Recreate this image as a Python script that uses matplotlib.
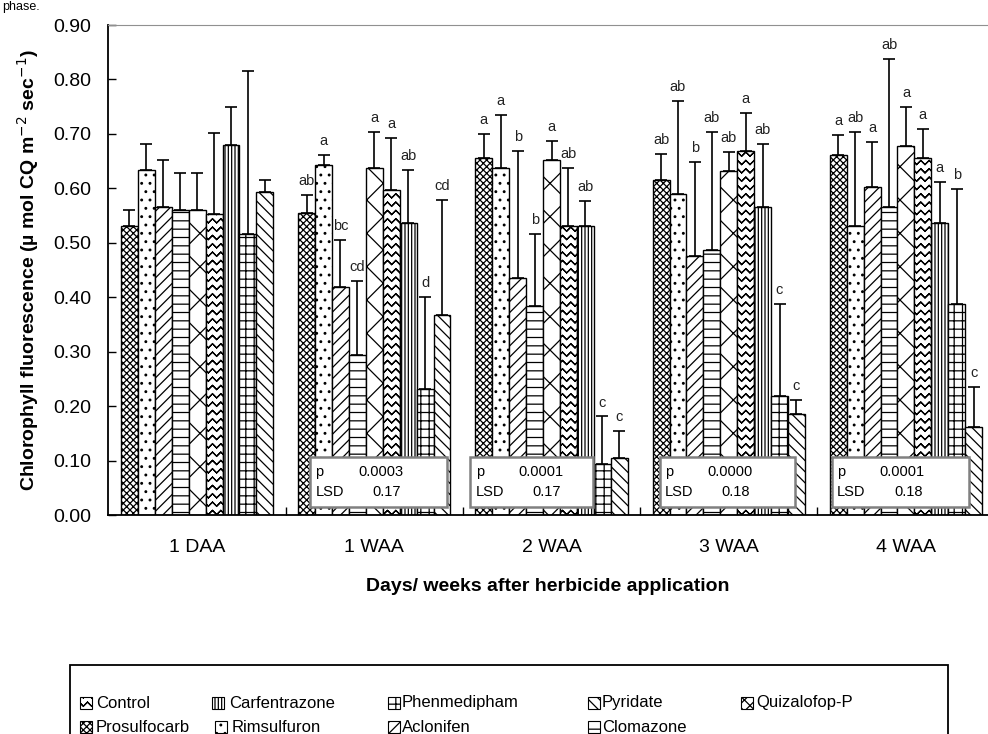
import numpy as np
import matplotlib
matplotlib.use("Agg")
import matplotlib.pyplot as plt
import matplotlib.hatch as mhatch
from matplotlib.path import Path
from matplotlib.patches import Rectangle

plt.rcParams['font.family'] = ['Liberation Sans', 'DejaVu Sans']
plt.rcParams['hatch.linewidth'] = 0.9


# wavy fill for the Control bars (takes over the 'O' hatch letter)
# each zigzag goes out and back along itself so the hatch fill adds no area
class ZigZagHatch(mhatch.HatchPatternBase):
    def __init__(self, hatch, density):
        self.num_lines = int(hatch.count('O') * density)
        self.periods = 12
        self.n = 2 * self.periods + 1
        self.num_vertices = self.num_lines * (2 * self.n - 1)
        self.filled = False

    def set_vertices_and_codes(self, vertices, codes):
        n = self.n
        xs = np.linspace(0, 1, n)
        amp = 0.25 / max(self.num_lines, 1)
        signs = np.where(np.arange(n) % 2 == 0, -1.0, 1.0)
        m = 2 * n - 1
        for i in range(self.num_lines):
            y0 = (i + 0.5) / self.num_lines
            ys = y0 + amp * signs
            px = np.concatenate([xs, xs[-2::-1]])
            py = np.concatenate([ys, ys[-2::-1]])
            sl = slice(i * m, (i + 1) * m)
            vertices[sl, 0] = px
            vertices[sl, 1] = py
            codes[sl] = Path.LINETO
            codes[i * m] = Path.MOVETO


mhatch._hatch_types = [h for h in mhatch._hatch_types if h is not mhatch.LargeCircles] + [ZigZagHatch]

# ---- data ----
groups = ['1 DAA', '1 WAA', '2 WAA', '3 WAA', '4 WAA']
treatments = ['Prosulfocarb', 'Rimsulfuron', 'Aclonifen', 'Clomazone', 'Quizalofop-P',
              'Control', 'Carfentrazone', 'Phenmedipham', 'Pyridate']

prosulfocarb = [0.530, 0.554, 0.656, 0.615, 0.661]
rimsulfuron = [0.634, 0.642, 0.637, 0.589, 0.531]
aclonifen = [0.566, 0.418, 0.436, 0.476, 0.602]
clomazone = [0.561, 0.293, 0.383, 0.487, 0.565]
quizalofop = [0.561, 0.637, 0.652, 0.632, 0.677]
control = [0.553, 0.597, 0.531, 0.669, 0.656]
carfentrazone = [0.679, 0.537, 0.530, 0.566, 0.536]
phenmedipham = [0.517, 0.232, 0.094, 0.219, 0.388]
pyridate = [0.594, 0.367, 0.104, 0.185, 0.162]

prosulfocarb_err = [0.031, 0.034, 0.043, 0.048, 0.037]
rimsulfuron_err = [0.048, 0.019, 0.098, 0.171, 0.172]
aclonifen_err = [0.086, 0.087, 0.233, 0.172, 0.083]
clomazone_err = [0.067, 0.137, 0.133, 0.217, 0.272]
quizalofop_err = [0.067, 0.067, 0.035, 0.034, 0.072]
control_err = [0.148, 0.095, 0.106, 0.070, 0.053]
carfentrazone_err = [0.070, 0.097, 0.047, 0.116, 0.076]
phenmedipham_err = [0.299, 0.169, 0.087, 0.169, 0.211]
pyridate_err = [0.021, 0.212, 0.051, 0.026, 0.074]

prosulfocarb_lab = ['', 'ab', 'a', 'ab', 'a']
rimsulfuron_lab = ['', 'a', 'a', 'ab', 'ab']
aclonifen_lab = ['', 'bc', 'b', 'b', 'a']
clomazone_lab = ['', 'cd', 'b', 'ab', 'ab']
quizalofop_lab = ['', 'a', 'a', 'ab', 'a']
control_lab = ['', 'a', 'ab', 'a', 'a']
carfentrazone_lab = ['', 'ab', 'ab', 'ab', 'a']
phenmedipham_lab = ['', 'd', 'c', 'c', 'b']
pyridate_lab = ['', 'cd', 'c', 'c', 'c']

p_values = ['0.0003', '0.0001', '0.0000', '0.0001']
lsd_values = ['0.17', '0.17', '0.18', '0.18']

means = [prosulfocarb, rimsulfuron, aclonifen, clomazone, quizalofop,
         control, carfentrazone, phenmedipham, pyridate]
errs = [prosulfocarb_err, rimsulfuron_err, aclonifen_err, clomazone_err, quizalofop_err,
        control_err, carfentrazone_err, phenmedipham_err, pyridate_err]
letters = [prosulfocarb_lab, rimsulfuron_lab, aclonifen_lab, clomazone_lab, quizalofop_lab,
           control_lab, carfentrazone_lab, phenmedipham_lab, pyridate_lab]

hatches = {'Prosulfocarb': 'xxxxx', 'Rimsulfuron': '..', 'Aclonifen': '///',
           'Clomazone': '--', 'Quizalofop-P': 'x', 'Control': 'OO',
           'Carfentrazone': '|||||', 'Phenmedipham': '++', 'Pyridate': '\\\\\\'}
# legend swatches are tiny, so the sparse cross needs more lines there
icon_hatches = dict(hatches, **{'Quizalofop-P': 'xxx'})

# ---- figure ----
W, H = 988, 734
fig = plt.figure(figsize=(W / 100, H / 100), dpi=100)
ax = fig.add_axes([108 / W, 1 - 515 / H, 1 - 108 / W, 490 / H])

x = np.arange(len(groups))
bw = 0.0955
for j, name in enumerate(treatments):
    pos = x + (j - 4) * bw
    ax.bar(pos, means[j], bw, color='white', edgecolor='black', hatch=hatches[name],
           linewidth=1.0, zorder=2)
    ax.errorbar(pos, means[j], yerr=[np.zeros(len(groups)), errs[j]], fmt='none',
                ecolor='black', elinewidth=1.2, capsize=4, capthick=1.2, zorder=3)
    for i in range(len(groups)):
        if letters[j][i]:
            ax.annotate(letters[j][i], (pos[i], means[j][i] + errs[j][i]),
                        xytext=(0, 5), textcoords='offset points', ha='center',
                        va='bottom', fontsize=10.5, color='#222222')

# p / LSD boxes
box_spans = [(0.638, 1.412), (1.542, 2.232), (2.610, 3.373), (3.582, 4.356)]
for k, (x0, x1) in enumerate(box_spans):
    ax.add_patch(Rectangle((x0, 0.015), x1 - x0, 0.092, facecolor='white',
                           edgecolor='#808080', linewidth=1.8, zorder=5))
    ax.text(x0 + 0.03, 0.079, 'p', fontsize=10.5, va='center', zorder=6)
    ax.text(x0 + 0.03, 0.042, 'LSD', fontsize=10.5, va='center', zorder=6)
    ax.text(x0 + 0.27, 0.079, p_values[k], fontsize=10.5, va='center', zorder=6)
    ax.text(x0 + 0.35, 0.042, lsd_values[k], fontsize=10.5, va='center', zorder=6)

ax.set_ylim(0, 0.9)
ax.set_xlim(-0.503, 4.463)
ax.set_yticks(np.arange(0, 0.91, 0.1))
ax.set_yticklabels([f'{v:.2f}' for v in np.arange(0, 0.91, 0.1)])
ax.set_xticks(x)
ax.set_xticklabels(groups)
ax.set_xticks(x[:-1] + 0.5, minor=True)
ax.tick_params(axis='y', direction='in', length=6, width=1, labelsize=14, pad=12)
ax.tick_params(axis='x', which='major', length=0, labelsize=14, pad=17)
ax.tick_params(axis='x', which='minor', direction='in', length=6, width=1)
ax.spines['right'].set_visible(False)
ax.spines['top'].set_color('#909090')
ax.spines['left'].set_linewidth(1.3)
ax.spines['bottom'].set_linewidth(1.3)

ax.set_xlabel('Days/ weeks after herbicide application', fontsize=14,
              fontweight='bold', labelpad=16)
ax.set_ylabel('Chlorophyll fluorescence (\u00b5 mol CQ m$^{-2}$ sec$^{-1}$)',
              fontsize=14, fontweight='bold', labelpad=9)

# caption remnant at the very top
fig.text(2 / W, 1 - 1 / H, 'phase.', fontsize=9, va='top', ha='left')

# ---- legend (drawn by hand to match the layout) ----
fig.add_artist(Rectangle((70 / W, 1 - 760 / H), (948 - 70) / W, 95 / H,
                         transform=fig.transFigure, facecolor='none',
                         edgecolor='black', linewidth=1.3))
legend_items = [('Control', 80, 96, 703), ('Prosulfocarb', 80, 96, 727),
                ('Carfentrazone', 212, 229, 703), ('Rimsulfuron', 215, 232, 727),
                ('Phenmedipham', 388, 402, 703), ('Aclonifen', 388, 402, 727),
                ('Pyridate', 588, 602, 703), ('Clomazone', 588, 602, 727),
                ('Quizalofop-P', 741, 756, 703)]
for name, ix, tx, yc in legend_items:
    fig.add_artist(Rectangle((ix / W, 1 - (yc + 6) / H), 12 / W, 12 / H,
                             transform=fig.transFigure, facecolor='white',
                             edgecolor='black', hatch=icon_hatches[name], linewidth=0.8))
    fig.text(tx / W, 1 - yc / H, name, fontsize=12, va='center', ha='left')

fig.savefig('out.png', dpi=100)
